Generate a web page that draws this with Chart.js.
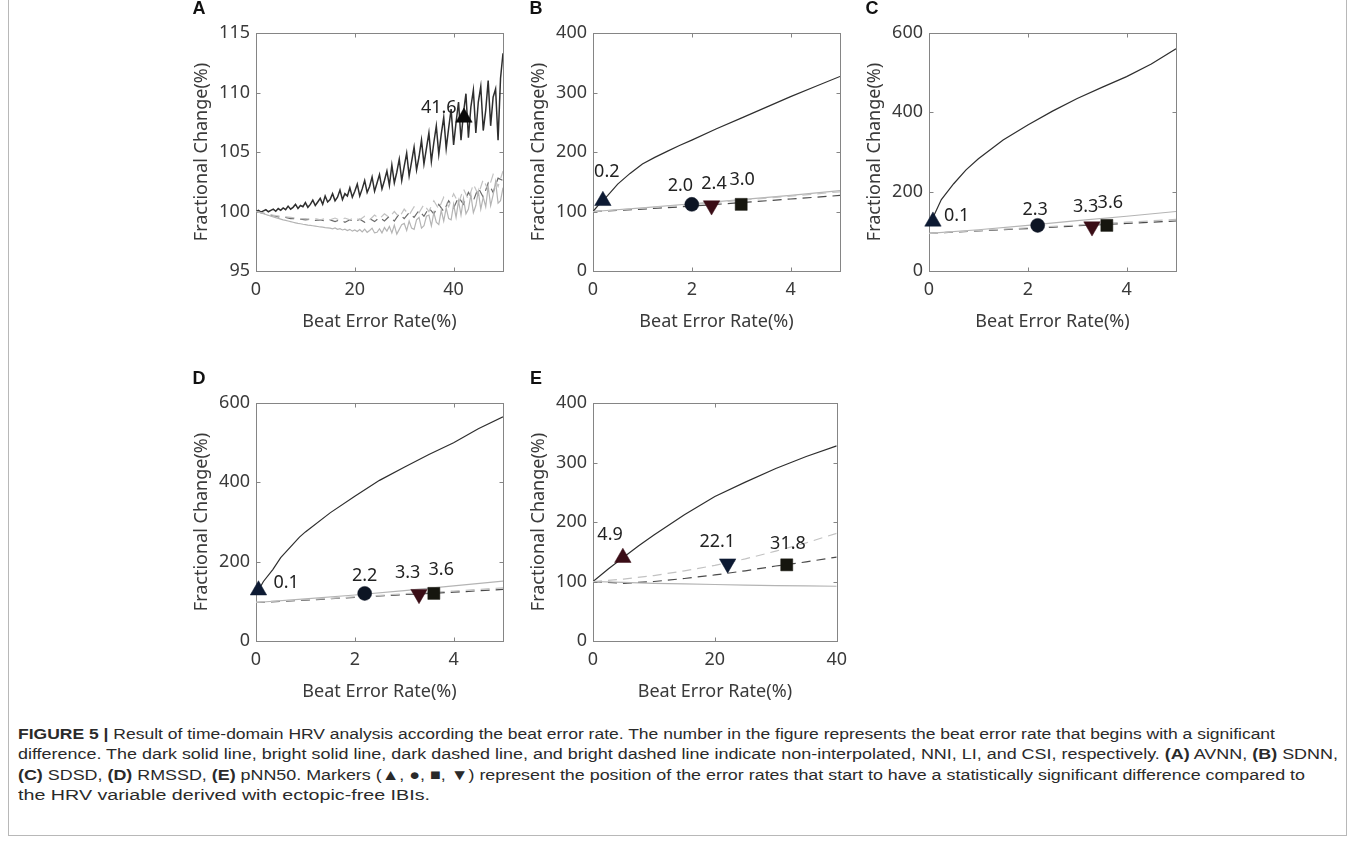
<!DOCTYPE html>
<html><head><meta charset="utf-8">
<script src="https://cdn.jsdelivr.net/npm/chart.js@4.4.0/dist/chart.umd.min.js"></script>
<style>
html,body{margin:0;padding:0;background:#fff;width:1355px;height:841px;overflow:hidden;}
.frame{position:absolute;left:8px;top:0px;width:1339px;height:836px;border:1px solid #b8b8b8;border-top:none;box-sizing:border-box;}
canvas.panel{position:absolute;}
.cap{position:absolute;left:18px;top:724px;font-family:"Liberation Sans Narrow","Liberation Sans",Arial,sans-serif;font-size:15.5px;color:#2a2a2a;line-height:20.3px;}
.cap div{white-space:nowrap;transform-origin:0 0;display:block;width:max-content;}
.cap b{font-weight:bold;}
</style></head>
<body>
<div class="frame"></div>
<canvas id="pA" class="panel"></canvas>
<canvas id="pB" class="panel"></canvas>
<canvas id="pC" class="panel"></canvas>
<canvas id="pD" class="panel"></canvas>
<canvas id="pE" class="panel"></canvas>
<div class="cap">
<div data-w="1257"><b>FIGURE 5 |</b> Result of time-domain HRV analysis according the beat error rate. The number in the figure represents the beat error rate that begins with a significant</div>
<div data-w="1320">difference. The dark solid line, bright solid line, dark dashed line, and bright dashed line indicate non-interpolated, NNI, LI, and CSI, respectively. <b>(A)</b> AVNN, <b>(B)</b> SDNN,</div>
<div data-w="1287"><b>(C)</b> SDSD, <b>(D)</b> RMSSD, <b>(E)</b> pNN50. Markers (▲, ●, ■, ▼) represent the position of the error rates that start to have a statistically significant difference compared to</div>
<div data-w="412">the HRV variable derived with ectopic-free IBIs.</div>
</div>
<script>
// ---------- DATA ----------
const X_TITLE = 'Beat Error Rate(%)';
const Y_TITLE = 'Fractional Change(%)';

// Panel A (AVNN)
const A_X_FINE = [0,0.5,1,1.5,2,2.5,3,3.5,4,4.5,5,5.5,6,6.5,7,7.5,8,8.5,9,9.5,10,10.5,11,11.5,12,12.5,13,13.5,14,14.5,15,15.5,16,16.5,17,17.5,18,18.5,19,19.5,20,20.5,21,21.5,22,22.5,23,23.5,24,24.5,25,25.5,26,26.5,27,27.5,28,28.5,29,29.5,30,30.5,31,31.5,32,32.5,33,33.5,34,34.5,35,35.5,36,36.5,37,37.5,38,38.5,39,39.5,40,40.5,41,41.5,42,42.5,43,43.5,44,44.5,45,45.5,46,46.5,47,47.5,48,48.5,49,49.5,50];
const A_RAW = [100.0,100.1,99.95,100.05,100.15,99.98,100.1,100.2,100.02,100.25,
100.1,100.3,100.15,100.45,100.2,100.35,100.6,100.25,100.5,100.4,
100.75,100.35,100.6,100.95,100.5,100.8,101.1,100.6,101.3,100.8,
101.0,101.5,100.9,101.2,101.8,101.0,101.5,101.3,102.0,101.2,
101.7,102.3,101.3,101.9,102.6,101.6,102.1,102.9,101.7,102.4,
103.1,101.9,102.6,103.4,102.2,103.9,102.4,103.3,104.4,102.6,
103.8,104.9,103.0,104.2,105.4,103.5,104.6,106.0,104.0,105.3,
106.6,104.2,105.8,107.2,104.8,106.5,107.9,105.3,107.0,108.6,
105.6,107.5,109.2,106.0,108.3,109.9,106.2,108.8,110.2,106.6,
109.2,110.5,106.8,108.5,111.0,107.2,109.6,110.3,106.0,111.2,
113.3];
const A_NNI = [100,99.95,99.88,99.82,99.75,99.68,99.6,99.55,99.48,99.42,
99.36,99.3,99.25,99.2,99.15,99.1,99.05,99.0,98.97,98.93,
98.9,98.86,98.83,98.8,98.77,98.74,98.7,98.68,98.65,98.63,
98.6,98.55,98.62,98.5,98.55,98.45,98.52,98.4,98.5,98.35,
98.45,98.32,98.48,98.28,98.52,98.25,98.4,98.6,98.2,98.25,
98.55,98.2,98.65,98.35,98.75,98.2,98.85,98.1,98.5,98.9,
99.0,98.4,99.2,98.6,98.5,99.3,99.5,98.6,98.8,99.6,
99.7,98.8,99.9,99.1,98.9,100.1,99.2,100.3,99.4,99.3,
100.6,99.5,100.9,99.7,101.1,99.8,100.2,101.4,99.9,100.5,
101.7,100.2,101.2,100.4,102.1,100.5,101.4,102.5,100.7,100.9,
102.0];
const A_X_COARSE = [0,1,2,3,4,5,6,7,8,9,10,11,12,13,14,15,16,17,18,19,20,21,22,23,24,25,26,27,28,29,30,31,32,33,34,35,36,37,38,39,40,41,42,43,44,45,46,47,48,49,50];
const A_LI = [100,99.9,99.8,99.7,99.6,99.5,99.5,99.4,99.4,99.35,99.3,99.35,99.25,99.3,99.2,99.3,99.15,99.3,99.1,99.3,99.15,99.35,99.1,99.4,99.15,99.5,99.2,99.6,99.2,99.8,99.4,99.9,99.5,100.1,99.6,100.3,99.8,100.6,100.0,100.9,100.3,101.2,100.6,101.6,100.9,102.0,101.2,102.4,101.6,102.8,102.6];
const A_CSI = [100,99.9,99.8,99.72,99.65,99.6,99.55,99.5,99.45,99.4,99.4,99.35,99.4,99.3,99.4,99.3,99.45,99.25,99.45,99.3,99.5,99.3,99.6,99.3,99.7,99.4,99.8,99.5,100.0,99.5,100.2,99.7,100.4,99.9,100.6,100.0,100.9,100.2,101.2,100.4,101.5,100.7,101.9,101.0,102.3,101.4,102.7,101.8,103.1,102.1,103.4];
const A_MARK_X = [42.1], A_MARK_Y = [107.9];
const A_LABELS = ['41.6'], A_LABEL_X = [37], A_LABEL_Y = [108.7];

// Panel B (SDNN)
const B_X_RAW = [0,0.1,0.2,0.3,0.5,0.75,1,1.25,1.5,1.75,2,2.5,3,3.5,4,4.5,5];
const B_RAW = [100,110,118,127,146,164,180,191,201,211,220,239,257,275,293,310,327];
const B_X_LIN = [0,1,2,3,4,5];
const B_NNI = [100,106,113,120,127,135];
const B_LI = [100,104,109,115,121,127];
const B_CSI = [100,105.5,112,119,126,133];
const B_MARK_X = [0.2,2.0,2.4,3.0], B_MARK_Y = [118,112,110,112];
const B_LABELS = ['0.2','2.0','2.4','3.0'], B_LABEL_X = [0.28,1.77,2.45,3.02], B_LABEL_Y = [167,143,147,153];

// Panel C (SDSD)
const C_X_RAW = [0.05,0.1,0.25,0.5,0.75,1,1.5,2,2.5,3,3.5,4,4.5,5];
const C_RAW = [120,140,180,220,255,283,330,368,403,435,463,490,522,560];
const C_X_LIN = [0,1,2,3,4,5];
const C_NNI = [95,104,115,127,138,150];
const C_LI = [95,101,107,114,120,126];
const C_CSI = [95,102,109,116,123,130];
const C_MARK_X = [0.08,2.2,3.3,3.6], C_MARK_Y = [125,115,112,115];
const C_LABELS = ['0.1','2.3','3.3','3.6'], C_LABEL_X = [0.56,2.15,3.17,3.67], C_LABEL_Y = [139,155,162,171];

// Panel D (RMSSD)
const D_X_RAW = [0.05,0.15,0.34,0.5,0.88,1,1.5,2,2.5,3,3.5,4,4.5,5];
const D_RAW = [128,150,180,210,262,275,323,365,405,438,470,500,535,565];
const D_X_LIN = [0,1,2,3,4,5];
const D_NNI = [97,106,116,127,139,151];
const D_LI = [97,103,110,117,123,130];
const D_CSI = [98,104,111,119,126,134];
const D_MARK_X = [0.05,2.2,3.3,3.6], D_MARK_Y = [128,120,118,120];
const D_LABELS = ['0.1','2.2','3.3','3.6'], D_LABEL_X = [0.61,2.2,3.07,3.75], D_LABEL_Y = [147,164,172,179];

// Panel E (pNN50)
const E_X_RAW = [0,2.5,4.9,7.5,10,15,20,25,30,35,40];
const E_RAW = [100,121,140,160,178,212,243,267,290,310,328];
const E_X_LIN = [0,5,10,15,20,25,30,35,40];
const E_NNI = [100,98.5,97,96,95,94,93,92.5,92];
const E_LI = [100,97,100,105,111,118,126,133,141];
const E_CSI = [100,104,110,118,127,138,151,165,181];
const E_MARK_X = [4.9,22.1,31.8], E_MARK_Y = [140,130,128];
const E_LABELS = ['4.9','22.1','31.8'], E_LABEL_X = [2.8,20.4,32], E_LABEL_Y = [178,167,164];

// ---------- STYLES ----------
const FONT = '"Noto Sans","Open Sans",sans-serif';
const TXT = '#3a3a3a';
const AXIS = '#858585';
const DARK = '#2e2e2e', BRIGHT = '#b4b4b4', DARKD = '#4a4a4a', BRIGHTD = '#c2c2c2';
const C_UP = '#0d1a33', C_CIR = '#0d1524', C_DOWN = '#3a0d16', C_SQ = '#16160f';
const PLOT_W = 247, PLOT_H = 238, Y_AX = 75, X_AX = 64, PAD_T = 40, PAD_R = 15;

function pts(xs, ys){ return xs.map((x,i)=>({x:x, y:ys[i]})); }

function lineDS(xs, ys, color, dashed, width){
  return {type:'scatter', data:pts(xs,ys), showLine:true, borderColor:color, backgroundColor:color,
    borderWidth:width||1.2, borderDash:dashed?[9,6]:[], pointRadius:0, pointHoverRadius:0, tension:0, order:5};
}
function markDS(x, y, kind, color){
  const st = {up:['triangle',0,9.5],down:['triangle',180,9.5],circle:['circle',0,7],square:['rect',0,8.5]}[kind];
  return {type:'scatter', data:[{x:x,y:y}], pointStyle:st[0], rotation:st[1], pointRadius:st[2],
    pointHoverRadius:st[2], backgroundColor:color, borderColor:color, borderWidth:0.5, showLine:false, clip:false, order:1};
}

const boxPlugin = {
  id:'box',
  beforeDatasetsDraw(chart){
    const {ctx, chartArea:a, scales} = chart;
    ctx.save();
    ctx.strokeStyle = AXIS; ctx.lineWidth = 1;
    const L = Math.round(a.left)+0.5, R = Math.round(a.right)+0.5, T = Math.round(a.top)+0.5, B = Math.round(a.bottom)+0.5;
    ctx.strokeRect(L, T, R-L, B-T);
    ctx.beginPath();
    scales.x.ticks.forEach(t=>{ const px = Math.round(scales.x.getPixelForValue(t.value))+0.5;
      ctx.moveTo(px,B); ctx.lineTo(px,B-4); ctx.moveTo(px,T); ctx.lineTo(px,T+4); });
    scales.y.ticks.forEach(t=>{ const py = Math.round(scales.y.getPixelForValue(t.value))+0.5;
      ctx.moveTo(L,py); ctx.lineTo(L+4,py); ctx.moveTo(R,py); ctx.lineTo(R-4,py); });
    ctx.stroke();
    ctx.restore();
  },
  afterDatasetsDraw(chart, args, opts){
    const {ctx, chartArea:a, scales} = chart;
    ctx.save();
    ctx.fillStyle = '#111';
    ctx.font = 'bold 18px "Liberation Sans",Arial,sans-serif';
    ctx.textAlign = 'center'; ctx.textBaseline = 'middle';
    ctx.fillText(opts.letter, a.left - 57, a.top - 24);
    ctx.font = '18px ' + FONT;
    ctx.fillStyle = '#222';
    opts.labels.forEach((s,i)=>{
      ctx.fillText(s, scales.x.getPixelForValue(opts.lx[i]), scales.y.getPixelForValue(opts.ly[i]));
    });
    ctx.restore();
  }
};

function makePanel(id, left, top, cfg){
  const cv = document.getElementById(id);
  const W = Y_AX + PLOT_W + PAD_R, H = PAD_T + PLOT_H + X_AX;
  cv.width = W; cv.height = H;
  cv.style.left = (left - Y_AX) + 'px'; cv.style.top = (top - PAD_T) + 'px';
  cv.style.width = W + 'px'; cv.style.height = H + 'px';
  const tickFont = {family:FONT, size:18};
  new Chart(cv, {
    type:'scatter',
    data:{datasets:cfg.datasets},
    options:{
      responsive:false, animation:false, devicePixelRatio:1,
      layout:{padding:{top:PAD_T, right:PAD_R, left:0, bottom:0}},
      plugins:{legend:{display:false}, tooltip:{enabled:false},
        box:{letter:cfg.letter, labels:cfg.labels, lx:cfg.lx, ly:cfg.ly}},
      scales:{
        x:{type:'linear', min:cfg.xr[0], max:cfg.xr[1],
          ticks:{stepSize:cfg.xr[2], includeBounds:false, color:TXT, font:tickFont, padding:8, maxRotation:0},
          grid:{display:false, drawTicks:false}, border:{display:false},
          title:{display:true, text:X_TITLE, color:TXT, font:{family:FONT,size:18}, padding:{top:0,bottom:2}},
          afterFit(s){ s.height = X_AX; }},
        y:{type:'linear', min:cfg.yr[0], max:cfg.yr[1],
          ticks:{stepSize:cfg.yr[2], color:TXT, font:tickFont, padding:6},
          grid:{display:false, drawTicks:false}, border:{display:false},
          title:{display:true, text:Y_TITLE, color:TXT, font:{family:FONT,size:18}, padding:{top:10,bottom:0}},
          afterFit(s){ s.width = Y_AX; }}
      }
    },
    plugins:[boxPlugin]
  });
}

const KIND4 = ['up','circle','down','square'];
const COL4 = [C_UP, C_CIR, C_DOWN, C_SQ];

makePanel('pA', 256, 33, {letter:'A', xr:[0,50,20], yr:[95,115,5],
  labels:A_LABELS, lx:A_LABEL_X, ly:A_LABEL_Y,
  datasets:[
    lineDS(A_X_FINE, A_NNI, BRIGHT, false, 1.2),
    lineDS(A_X_COARSE, A_CSI, BRIGHTD, true, 1.2),
    lineDS(A_X_COARSE, A_LI, '#6a6a6a', true, 1.2),
    lineDS(A_X_FINE, A_RAW, DARK, false, 1.5),
    markDS(A_MARK_X[0], A_MARK_Y[0], 'up', '#0a0a0a')
  ]});

makePanel('pB', 593, 33, {letter:'B', xr:[0,5,2], yr:[0,400,100],
  labels:B_LABELS, lx:B_LABEL_X, ly:B_LABEL_Y,
  datasets:[
    lineDS(B_X_LIN, B_CSI, BRIGHTD, true),
    lineDS(B_X_LIN, B_NNI, BRIGHT, false),
    lineDS(B_X_LIN, B_LI, DARKD, true),
    lineDS(B_X_RAW, B_RAW, DARK, false),
    ...B_MARK_X.map((x,i)=>markDS(x, B_MARK_Y[i], KIND4[i], COL4[i]))
  ]});

makePanel('pC', 929, 33, {letter:'C', xr:[0,5,2], yr:[0,600,200],
  labels:C_LABELS, lx:C_LABEL_X, ly:C_LABEL_Y,
  datasets:[
    lineDS(C_X_LIN, C_CSI, BRIGHTD, true),
    lineDS(C_X_LIN, C_NNI, BRIGHT, false),
    lineDS(C_X_LIN, C_LI, DARKD, true),
    lineDS(C_X_RAW, C_RAW, DARK, false),
    ...C_MARK_X.map((x,i)=>markDS(x, C_MARK_Y[i], KIND4[i], COL4[i]))
  ]});

makePanel('pD', 256, 403, {letter:'D', xr:[0,5,2], yr:[0,600,200],
  labels:D_LABELS, lx:D_LABEL_X, ly:D_LABEL_Y,
  datasets:[
    lineDS(D_X_LIN, D_CSI, BRIGHTD, true),
    lineDS(D_X_LIN, D_NNI, BRIGHT, false),
    lineDS(D_X_LIN, D_LI, DARKD, true),
    lineDS(D_X_RAW, D_RAW, DARK, false),
    ...D_MARK_X.map((x,i)=>markDS(x, D_MARK_Y[i], KIND4[i], COL4[i]))
  ]});

const KIND_E = ['up','down','square'];
const COL_E = [C_DOWN, C_UP, C_SQ];
makePanel('pE', 593, 403, {letter:'E', xr:[0,40,20], yr:[0,400,100],
  labels:E_LABELS, lx:E_LABEL_X, ly:E_LABEL_Y,
  datasets:[
    lineDS(E_X_LIN, E_CSI, BRIGHTD, true),
    lineDS(E_X_LIN, E_NNI, BRIGHT, false),
    lineDS(E_X_LIN, E_LI, DARKD, true),
    lineDS(E_X_RAW, E_RAW, DARK, false),
    ...E_MARK_X.map((x,i)=>markDS(x, E_MARK_Y[i], KIND_E[i], COL_E[i]))
  ]});

// fit caption lines to their measured widths in the reference
document.querySelectorAll('.cap div').forEach(d=>{
  const w = d.getBoundingClientRect().width;
  const target = +d.dataset.w;
  if (w > 0) d.style.transform = 'scaleX(' + (target / w).toFixed(4) + ')';
});
</script>
</body></html>
